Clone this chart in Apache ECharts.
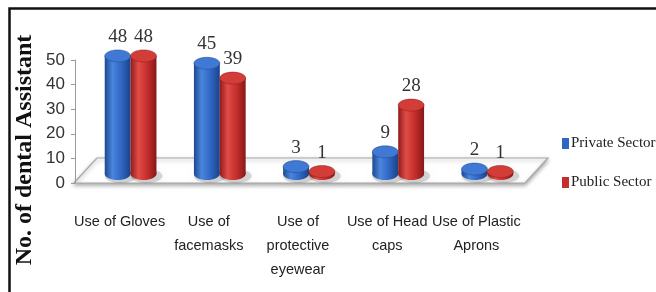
<!DOCTYPE html>
<html>
<head>
<meta charset="utf-8">
<script src="https://cdn.jsdelivr.net/npm/echarts@6/dist/echarts.min.js"></script>
<style>
  html, body { margin: 0; padding: 0; background: #fff; }
  #chart { width: 656px; height: 292px; }
</style>
</head>
<body>
<div id="chart"></div>
<script>
var categories = [
  'Use of Gloves',
  'Use of\nfacemasks',
  'Use of\nprotective\neyewear',
  'Use of Head\ncaps',
  'Use of Plastic\nAprons'
];
var privateSector = [48, 45, 3, 9, 2];
var publicSector = [48, 39, 1, 28, 1];
var yTicks = { min: 0, max: 50, interval: 10 };

var GRID_LEFT = 75, GRID_RIGHT = 135, GRID_TOP = 60, GRID_BOTTOM = 109;
// depth shift of the 3d look (bars stand mid-way on the floor)
var DX = 11, DY = -9;
var FLOOR_DX = 23, FLOOR_DY = -25;

var SANS = '"Liberation Sans Narrow", "Arial Narrow", "Liberation Sans", Arial, sans-serif';
var SERIF = '"Liberation Serif", "Times New Roman", serif';

var palettes = [
  { main: '#2f66c4', top: '#4079d4', stops: ['#1d4890', '#4a86dc', '#2f66c4', '#1a4286'] },
  { main: '#c42e2c', top: '#d23d38', stops: ['#901b1b', '#e04c46', '#c42e2c', '#861919'] }
];

function renderCylinder (params, api) {
  var val = api.value(1);
  var top = api.coord([api.value(0), val]);
  var base = api.coord([api.value(0), 0]);
  var band = api.size([1, 0])[0];
  var w = band * 0.29;
  var cx = top[0] + DX + (params.seriesIndex === 0 ? -w / 2 : w / 2);
  var ry = 6;
  var yTop = top[1] + DY;
  var yBase = base[1] + DY;
  var p = palettes[params.seriesIndex];
  var side = new echarts.graphic.LinearGradient(0, 0, 1, 0, [
    { offset: 0, color: p.stops[0] },
    { offset: 0.3, color: p.stops[1] },
    { offset: 0.65, color: p.stops[2] },
    { offset: 1, color: p.stops[3] }
  ]);
  return {
    type: 'group',
    children: [
      {
        type: 'ellipse',
        shape: { cx: cx + 3, cy: yBase + 2, rx: w / 2 + 3, ry: ry + 1 },
        style: { fill: 'rgba(0,0,0,0.15)', shadowBlur: 6, shadowColor: 'rgba(0,0,0,0.3)' }
      },
      {
        type: 'ellipse',
        shape: { cx: cx, cy: yBase, rx: w / 2, ry: ry },
        style: { fill: side }
      },
      {
        type: 'rect',
        shape: { x: cx - w / 2, y: yTop, width: w, height: yBase - yTop },
        style: { fill: side }
      },
      {
        type: 'ellipse',
        shape: { cx: cx, cy: yTop, rx: w / 2, ry: ry },
        style: { fill: p.top, stroke: p.stops[0], lineWidth: 0.5 }
      },
      {
        type: 'text',
        style: {
          text: String(val),
          x: cx,
          y: yTop - 19,
          align: 'center',
          verticalAlign: 'middle',
          fontSize: 19,
          fontFamily: SERIF,
          fill: '#333'
        }
      }
    ]
  };
}

var chart = echarts.init(document.getElementById('chart'));

var floorX0 = GRID_LEFT - 1;
var floorX1 = 656 - GRID_RIGHT + 4;
var floorY = 292 - GRID_BOTTOM;

chart.setOption({
  animation: false,
  grid: { left: GRID_LEFT, right: GRID_RIGHT, top: GRID_TOP, bottom: GRID_BOTTOM },
  legend: {
    orient: 'vertical',
    left: 557,
    top: 131,
    itemGap: 24,
    itemWidth: 7,
    itemHeight: 11,
    icon: 'rect',
    textStyle: {
      fontSize: 15,
      fontFamily: SERIF,
      color: '#222',
      padding: [0, 0, 0, -3]
    },
    data: ['Private Sector', 'Public Sector']
  },
  xAxis: {
    type: 'category',
    data: categories,
    axisLine: { show: false },
    axisTick: { show: false },
    axisLabel: {
      interval: 0,
      margin: 27,
      fontSize: 14.5,
      lineHeight: 24,
      fontFamily: SANS,
      color: '#222'
    }
  },
  yAxis: {
    type: 'value',
    min: yTicks.min,
    max: yTicks.max,
    interval: yTicks.interval,
    splitLine: { show: false },
    axisLine: { show: true, lineStyle: { color: '#9a9a9a' } },
    axisTick: { show: true, length: 4, lineStyle: { color: '#9a9a9a' } },
    axisLabel: {
      margin: 10,
      fontSize: 17,
      fontFamily: SANS,
      color: '#333'
    }
  },
  graphic: [
    {
      type: 'polygon',
      z: -1,
      shape: {
        points: [
          [floorX0, floorY],
          [floorX1, floorY],
          [floorX1 + FLOOR_DX, floorY + FLOOR_DY],
          [floorX0 + FLOOR_DX, floorY + FLOOR_DY]
        ]
      },
      style: {
        fill: '#fff',
        stroke: '#a8a8a8',
        lineWidth: 1.2,
        shadowBlur: 4,
        shadowOffsetY: 2,
        shadowColor: 'rgba(0,0,0,0.35)'
      }
    },
    {
      type: 'text',
      x: 25,
      y: 150,
      rotation: Math.PI / 2,
      style: {
        text: 'No. of dental Assistant',
        align: 'center',
        verticalAlign: 'middle',
        fontSize: 24,
        fontWeight: 'bold',
        fontFamily: SERIF,
        fill: '#111'
      }
    },
    {
      type: 'rect',
      shape: { x: 9.5, y: 8.5, width: 800, height: 400 },
      style: { fill: 'none', stroke: '#111', lineWidth: 2.5 }
    }
  ],
  series: [
    {
      name: 'Private Sector',
      type: 'custom',
      renderItem: renderCylinder,
      itemStyle: { color: palettes[0].main },
      encode: { x: 0, y: 1 },
      data: privateSector.map(function (v, i) { return [i, v]; })
    },
    {
      name: 'Public Sector',
      type: 'custom',
      renderItem: renderCylinder,
      itemStyle: { color: palettes[1].main },
      encode: { x: 0, y: 1 },
      data: publicSector.map(function (v, i) { return [i, v]; })
    }
  ]
});
</script>
</body>
</html>
